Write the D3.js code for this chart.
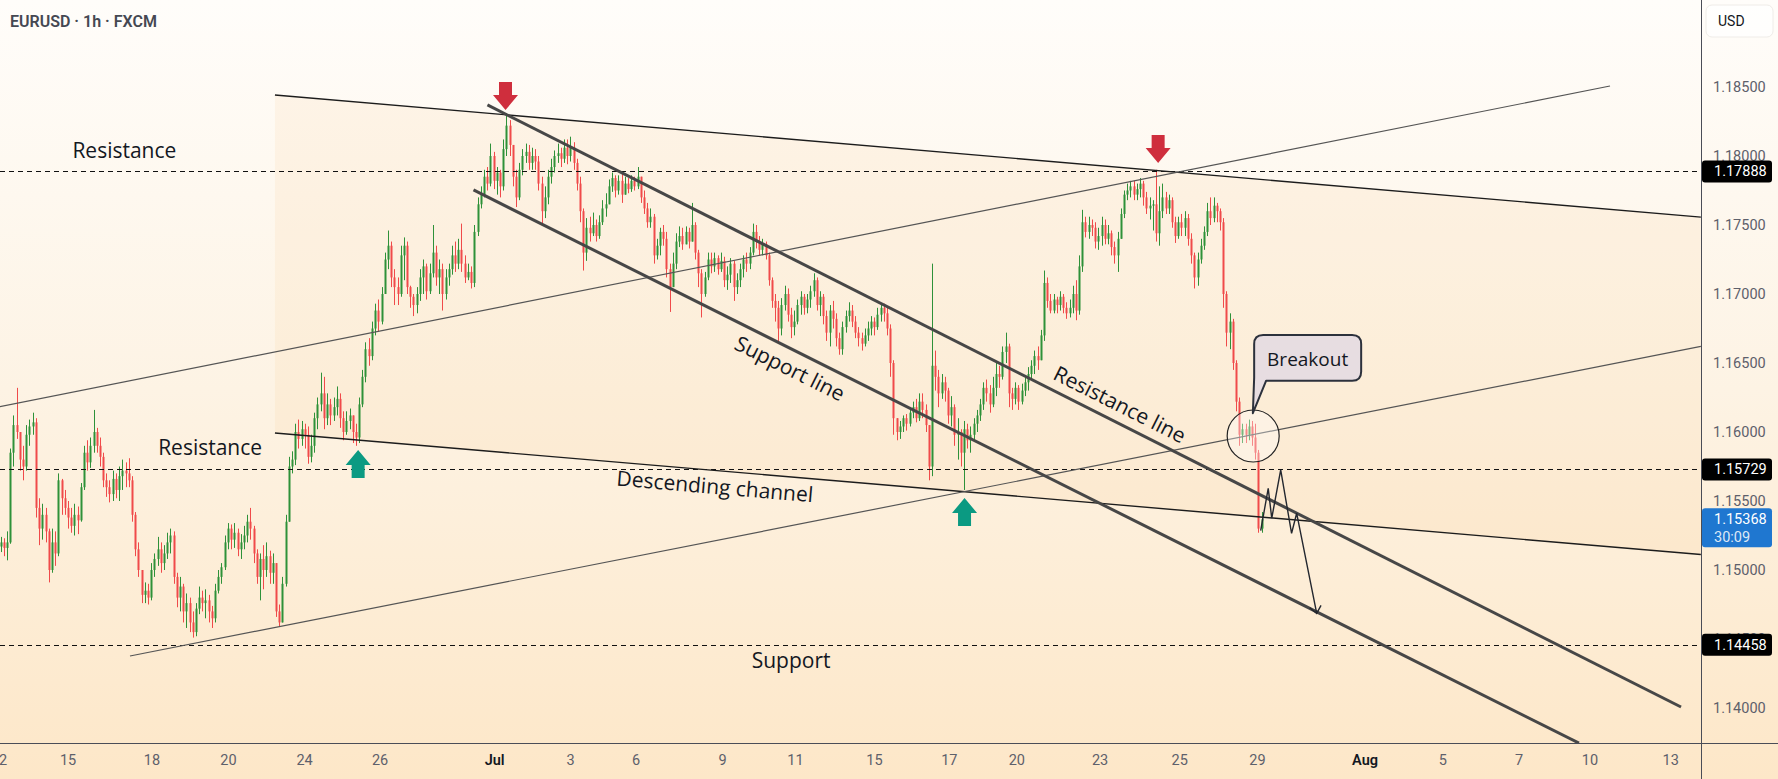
<!DOCTYPE html>
<html>
<head>
<meta charset="utf-8">
<script src="https://cdn.jsdelivr.net/npm/d3@7"></script>
<style>
html, body { margin: 0; padding: 0; background: #fff; }
svg { display: block; }
</style>
</head>
<body>
<svg id="chart" width="1778" height="779"></svg>
<script>
// ---- data (EURUSD 1h, bars, ~2h per bar) ----
var firstOpen = 1.1517;
var closes = [
1.1520,1.1516,1.1520,1.1585,1.1605,1.1600,1.1580,1.1575,1.1598,1.1604,
1.1607,1.1545,1.1530,1.1540,1.1528,1.1500,1.1520,1.1512,1.1565,1.1552,
1.1545,1.1538,1.1532,1.1540,1.1536,1.1560,1.1585,1.1578,1.1590,1.1600,
1.1590,1.1582,1.1565,1.1560,1.1555,1.1566,1.1558,1.1568,1.1572,1.1570,
1.1565,1.1540,1.1515,1.1500,1.1482,1.1485,1.1480,1.1500,1.1508,1.1515,
1.1505,1.1512,1.1520,1.1525,1.1495,1.1480,1.1488,1.1470,1.1476,1.1462,
1.1455,1.1472,1.1480,1.1476,1.1478,1.1470,1.1465,1.1485,1.1495,1.1502,
1.1520,1.1530,1.1522,1.1527,1.1515,1.1520,1.1525,1.1535,1.1530,1.1512,
1.1495,1.1508,1.1500,1.1510,1.1498,1.1505,1.1470,1.1462,1.1490,1.1535,
1.1575,1.1580,1.1600,1.1595,1.1602,1.1598,1.1582,1.1590,1.1610,1.1620,
1.1628,1.1610,1.1620,1.1612,1.1618,1.1624,1.1610,1.1600,1.1608,1.1612,
1.1600,1.1596,1.1620,1.1640,1.1660,1.1655,1.1675,1.1688,1.1680,1.1700,
1.1725,1.1735,1.1712,1.1705,1.1700,1.1728,1.1735,1.1705,1.1698,1.1692,
1.1700,1.1712,1.1720,1.1702,1.1715,1.1730,1.1712,1.1718,1.1700,1.1712,
1.1718,1.1728,1.1722,1.1732,1.1722,1.1712,1.1716,1.1708,1.1745,1.1765,
1.1772,1.1785,1.1780,1.1800,1.1782,1.1788,1.1778,1.1805,1.1822,1.1808,
1.1785,1.1770,1.1790,1.1800,1.1803,1.1795,1.1800,1.1796,1.1780,1.1760,
1.1770,1.1785,1.1792,1.1800,1.1802,1.1798,1.1806,1.1800,1.1806,1.1795,
1.1780,1.1760,1.1730,1.1748,1.1744,1.1750,1.1742,1.1752,1.1762,1.1765,
1.1778,1.1784,1.1775,1.1782,1.1772,1.1780,1.1776,1.1782,1.1778,1.1785,
1.1770,1.1762,1.1752,1.1756,1.1728,1.1735,1.1745,1.1740,1.1718,1.1705,
1.1722,1.1738,1.1742,1.1736,1.1745,1.1738,1.1750,1.1730,1.1715,1.1700,
1.1712,1.1725,1.1720,1.1726,1.1718,1.1724,1.1710,1.1714,1.1722,1.1705,
1.1710,1.1718,1.1725,1.1722,1.1730,1.1745,1.1738,1.1732,1.1736,1.1728,
1.1710,1.1695,1.1690,1.1675,1.1692,1.1700,1.1685,1.1676,1.1680,1.1692,
1.1698,1.1690,1.1696,1.1702,1.1710,1.1692,1.1698,1.1684,1.1672,1.1688,
1.1682,1.1668,1.1660,1.1676,1.1684,1.1688,1.1680,1.1672,1.1668,1.1664,
1.1670,1.1675,1.1680,1.1676,1.1685,1.1690,1.1686,1.1675,1.1650,1.1610,
1.1600,1.1604,1.1610,1.1606,1.1614,1.1618,1.1610,1.1622,1.1616,1.1605,
1.1575,1.1648,1.1640,1.1628,1.1636,1.1630,1.1612,1.1618,1.1598,1.1600,
1.1585,1.1602,1.1594,1.1598,1.1606,1.1612,1.1620,1.1632,1.1628,1.1620,
1.1632,1.1642,1.1640,1.1658,1.1662,1.1628,1.1624,1.1632,1.1622,1.1630,
1.1636,1.1642,1.1648,1.1655,1.1652,1.1670,1.1708,1.1695,1.1688,1.1696,
1.1692,1.1698,1.1690,1.1686,1.1690,1.1700,1.1688,1.1720,1.1752,1.1745,
1.1750,1.1748,1.1738,1.1742,1.1750,1.1740,1.1744,1.1734,1.1728,1.1740,
1.1758,1.1772,1.1775,1.1778,1.1772,1.1776,1.1780,1.1770,1.1762,1.1764,
1.1765,1.1744,1.1760,1.1770,1.1762,1.1768,1.1752,1.1742,1.1752,1.1748,
1.1755,1.1740,1.1728,1.1712,1.1725,1.1735,1.1745,1.1760,1.1755,1.1764,
1.1760,1.1752,1.1700,1.1672,1.1680,1.1650,1.1622,1.1598,1.1602,1.1598,
1.1604,1.1596,1.1585,1.1530,1.15368
];
var highs = [
1.1524,1.1523,1.1528,1.1588,1.1612,1.1632,1.1600,1.1590,1.1605,1.1609,
1.1614,1.1610,1.1552,1.1548,1.1545,1.1530,1.1530,1.1528,1.1570,1.1566,
1.1558,1.1550,1.1545,1.1548,1.1546,1.1563,1.1590,1.1594,1.1596,1.1616,
1.1603,1.1596,1.1585,1.1570,1.1565,1.1572,1.1570,1.1575,1.1580,1.1578,
1.1581,1.1568,1.1542,1.1520,1.1500,1.1491,1.1490,1.1505,1.1512,1.1524,
1.1520,1.1518,1.1527,1.1530,1.1528,1.1498,1.1495,1.1490,1.1483,1.1480,
1.1470,1.1476,1.1488,1.1485,1.1486,1.1482,1.1474,1.1490,1.1500,1.1505,
1.1525,1.1534,1.1533,1.1534,1.1530,1.1526,1.1532,1.1540,1.1545,1.1532,
1.1515,1.1512,1.1518,1.1520,1.1514,1.1512,1.1500,1.1475,1.1495,1.1540,
1.1582,1.1586,1.1606,1.1609,1.1608,1.1606,1.1604,1.1598,1.1614,1.1625,
1.1643,1.1640,1.1628,1.1624,1.1625,1.1633,1.1628,1.1615,1.1615,1.1617,
1.1610,1.1606,1.1625,1.1645,1.1665,1.1668,1.1680,1.1693,1.1696,1.1705,
1.1730,1.1746,1.1738,1.1718,1.1712,1.1735,1.1741,1.1738,1.1706,1.1700,
1.1705,1.1718,1.1725,1.1722,1.1722,1.1750,1.1735,1.1725,1.1722,1.1718,
1.1722,1.1735,1.1738,1.1740,1.1751,1.1728,1.1722,1.1720,1.1750,1.1770,
1.1778,1.1790,1.1792,1.1809,1.1803,1.1792,1.1790,1.1812,1.1831,1.1826,
1.1805,1.1790,1.1795,1.1805,1.1809,1.1808,1.1806,1.1805,1.1800,1.1785,
1.1778,1.1790,1.1798,1.1804,1.1809,1.1806,1.1812,1.1812,1.1814,1.1810,
1.1798,1.1785,1.1762,1.1755,1.1756,1.1759,1.1754,1.1757,1.1768,1.1773,
1.1783,1.1788,1.1786,1.1786,1.1788,1.1785,1.1784,1.1786,1.1785,1.1792,
1.1785,1.1775,1.1766,1.1762,1.1758,1.1740,1.1748,1.1750,1.1745,1.1722,
1.1730,1.1744,1.1749,1.1748,1.1749,1.1748,1.1766,1.1752,1.1732,1.1718,
1.1716,1.1730,1.1730,1.1730,1.1728,1.1730,1.1727,1.1720,1.1726,1.1724,
1.1715,1.1722,1.1728,1.1730,1.1734,1.1751,1.1750,1.1742,1.1740,1.1738,
1.1730,1.1712,1.1700,1.1695,1.1697,1.1706,1.1704,1.1690,1.1688,1.1696,
1.1702,1.1700,1.1700,1.1706,1.1715,1.1712,1.1702,1.1700,1.1688,1.1692,
1.1695,1.1686,1.1672,1.1680,1.1688,1.1694,1.1692,1.1684,1.1676,1.1672,
1.1675,1.1680,1.1684,1.1683,1.1690,1.1693,1.1693,1.1690,1.1678,1.1652,
1.1606,1.1608,1.1612,1.1613,1.1617,1.1622,1.1624,1.1628,1.1628,1.1620,
1.1605,1.1722,1.1659,1.1645,1.1642,1.1640,1.1632,1.1626,1.1620,1.1610,
1.1602,1.1608,1.1606,1.1604,1.1610,1.1616,1.1624,1.1636,1.1638,1.1634,
1.1640,1.1650,1.1648,1.1662,1.1672,1.1664,1.1632,1.1636,1.1634,1.1635,
1.1640,1.1647,1.1652,1.1659,1.1662,1.1674,1.1717,1.1712,1.1700,1.1700,
1.1698,1.1702,1.1700,1.1694,1.1696,1.1706,1.1710,1.1728,1.1761,1.1756,
1.1756,1.1754,1.1752,1.1748,1.1756,1.1754,1.1750,1.1746,1.1738,1.1745,
1.1762,1.1775,1.1780,1.1782,1.1782,1.1780,1.1784,1.1782,1.1774,1.1770,
1.1768,1.1790,1.1778,1.1780,1.1774,1.1772,1.1770,1.1756,1.1756,1.1758,
1.1760,1.1758,1.1744,1.1730,1.1730,1.1740,1.1749,1.1766,1.1770,1.1770,
1.1766,1.1762,1.1755,1.1702,1.1686,1.1682,1.1652,1.1625,1.1606,1.1606,
1.1609,1.1608,1.1606,1.1587,1.1542
];
var lows = [
1.1513,1.1510,1.1507,1.1519,1.1575,1.1595,1.1572,1.1565,1.1572,1.1590,
1.1598,1.1538,1.1518,1.1522,1.1520,1.1491,1.1498,1.1503,1.1510,1.1540,
1.1540,1.1530,1.1527,1.1525,1.1526,1.1535,1.1558,1.1572,1.1574,1.1585,
1.1585,1.1575,1.1560,1.1553,1.1549,1.1550,1.1552,1.1550,1.1558,1.1560,
1.1560,1.1535,1.1510,1.1495,1.1476,1.1476,1.1475,1.1478,1.1495,1.1503,
1.1498,1.1500,1.1508,1.1512,1.1490,1.1473,1.1470,1.1462,1.1458,1.1455,
1.1451,1.1452,1.1468,1.1470,1.1465,1.1462,1.1458,1.1462,1.1483,1.1490,
1.1500,1.1515,1.1515,1.1516,1.1510,1.1508,1.1515,1.1520,1.1522,1.1505,
1.1490,1.1478,1.1486,1.1495,1.1490,1.1490,1.1466,1.1459,1.1462,1.1488,
1.1535,1.1570,1.1576,1.1588,1.1590,1.1588,1.1577,1.1578,1.1585,1.1602,
1.1615,1.1602,1.1605,1.1605,1.1608,1.1612,1.1603,1.1594,1.1598,1.1602,
1.1592,1.1590,1.1592,1.1618,1.1636,1.1648,1.1652,1.1670,1.1673,1.1678,
1.1700,1.1718,1.1705,1.1692,1.1692,1.1698,1.1710,1.1700,1.1690,1.1684,
1.1686,1.1695,1.1700,1.1696,1.1700,1.1712,1.1706,1.1700,1.1688,1.1696,
1.1706,1.1714,1.1716,1.1718,1.1716,1.1708,1.1710,1.1704,1.1705,1.1742,
1.1762,1.1770,1.1775,1.1778,1.1776,1.1772,1.1770,1.1775,1.1800,1.1800,
1.1778,1.1763,1.1768,1.1786,1.1795,1.1790,1.1790,1.1790,1.1775,1.1750,
1.1755,1.1765,1.1780,1.1788,1.1795,1.1792,1.1795,1.1794,1.1796,1.1790,
1.1775,1.1752,1.1717,1.1724,1.1738,1.1742,1.1738,1.1740,1.1750,1.1756,
1.1765,1.1774,1.1770,1.1772,1.1766,1.1772,1.1773,1.1774,1.1775,1.1776,
1.1766,1.1758,1.1748,1.1748,1.1722,1.1725,1.1728,1.1735,1.1712,1.1687,
1.1708,1.1718,1.1734,1.1732,1.1736,1.1733,1.1738,1.1725,1.1705,1.1683,
1.1698,1.1710,1.1715,1.1716,1.1714,1.1716,1.1705,1.1703,1.1708,1.1695,
1.1700,1.1705,1.1712,1.1716,1.1718,1.1728,1.1733,1.1728,1.1728,1.1725,
1.1706,1.1690,1.1680,1.1664,1.1670,1.1688,1.1680,1.1668,1.1670,1.1678,
1.1685,1.1685,1.1686,1.1690,1.1698,1.1688,1.1684,1.1678,1.1666,1.1662,
1.1675,1.1662,1.1656,1.1656,1.1672,1.1680,1.1676,1.1668,1.1662,1.1659,
1.1662,1.1666,1.1670,1.1670,1.1674,1.1680,1.1680,1.1670,1.1640,1.1598,
1.1594,1.1595,1.1600,1.1601,1.1604,1.1610,1.1607,1.1608,1.1610,1.1600,
1.1565,1.1568,1.1630,1.1618,1.1624,1.1622,1.1606,1.1604,1.1590,1.1580,
1.1575,1.1558,1.1588,1.1585,1.1594,1.1600,1.1608,1.1616,1.1622,1.1614,
1.1618,1.1626,1.1632,1.1638,1.1650,1.1618,1.1616,1.1620,1.1616,1.1620,
1.1626,1.1630,1.1638,1.1642,1.1645,1.1652,1.1666,1.1690,1.1686,1.1686,
1.1686,1.1688,1.1686,1.1682,1.1683,1.1686,1.1681,1.1685,1.1716,1.1741,
1.1740,1.1742,1.1733,1.1732,1.1735,1.1736,1.1736,1.1728,1.1722,1.1716,
1.1740,1.1755,1.1768,1.1770,1.1768,1.1768,1.1770,1.1764,1.1758,1.1754,
1.1746,1.1738,1.1735,1.1755,1.1758,1.1758,1.1748,1.1737,1.1740,1.1742,
1.1742,1.1735,1.1722,1.1704,1.1706,1.1722,1.1732,1.1742,1.1750,1.1752,
1.1752,1.1746,1.1690,1.1662,1.1660,1.1645,1.1615,1.1590,1.1592,1.1592,
1.1594,1.1590,1.1580,1.1527,1.1527
];

var priceTicks = [1.185, 1.18, 1.175, 1.17, 1.165, 1.16, 1.155, 1.15, 1.145, 1.14];
// date labels, placed by bar index
var dateTicks = [
  {i: -0.7, label: "12"}, {i: 20.9, label: "15"}, {i: 47.1, label: "18"},
  {i: 71.0, label: "20"}, {i: 94.8, label: "24"}, {i: 118.4, label: "26"},
  {i: 154.2, label: "Jul", month: true}, {i: 177.9, label: "3"}, {i: 198.4, label: "6"},
  {i: 225.4, label: "9"}, {i: 248.2, label: "11"}, {i: 272.9, label: "15"},
  {i: 296.3, label: "17"}, {i: 317.4, label: "20"}, {i: 343.4, label: "23"},
  {i: 368.3, label: "25"}, {i: 392.6, label: "29"}, {i: 426.2, label: "Aug", month: true},
  {i: 450.5, label: "5"}, {i: 474.3, label: "7"}, {i: 496.5, label: "10"},
  {i: 521.7, label: "13"}
];

var levels = [1.17888, 1.15729, 1.14458];
var lastPrice = 1.15368, countdown = "30:09";

// drawn lines: [bar index, price]
var channelTop = [[85.7, 1.18442], [531.3, 1.17557]];
var channelBottom = [[85.7, 1.15993], [531.3, 1.15112]];
var riseUpper = [[-5, 1.16162], [502.9, 1.18507]];
var riseLower = [[40.4, 1.14377], [531.3, 1.16620]];
var resistanceLine = [[152.1, 1.18370], [525.1, 1.14007]];
var supportLine = [[147.75, 1.17754], [493.2, 1.13746]];
var projection = [[393.75, 1.15285], [396.1, 1.15592], [397.2, 1.15375], [400.0, 1.15725],
                  [403.4, 1.15266], [405.0, 1.15411], [411.25, 1.14686]];

var arrows = [
  {i: 157.75, p: 1.18333, dir: "down"},
  {i: 361.7, p: 1.17949, dir: "down"},
  {i: 111.7, p: 1.15870, dir: "up"},
  {i: 301.2, p: 1.15522, dir: "up"}
];

var labels = [
  {text: "Resistance", i: 22.4, p: 1.17986, anchor: "start"},
  {text: "Resistance", i: 49.2, p: 1.15833, anchor: "start"},
  {text: "Support", i: 247.0, p: 1.14290, anchor: "middle"}
];
var lineLabels = [
  {text: "Descending channel", i: 223.2, p: 1.15609, along: channelBottom},
  {text: "Support line", i: 246.7, p: 1.16464, along: supportLine},
  {text: "Resistance line", i: 349.8, p: 1.16203, along: resistanceLine}
];
var breakout = {text: "Breakout", i: 391.3, p: 1.16136, ci: 391.4, cp: 1.15971};

// ---- layout ----
var W = 1778, H = 779, plotR = 1701, plotB = 743;
var upColor = "#2e9139", downColor = "#f04a4a";

var svg = d3.select("#chart");
var x = d3.scaleLinear().domain([0, 394]).range([0.7, 1261.5]);
var y = d3.scaleLinear().domain([1.14, 1.185]).range([708, 87]);

var defs = svg.append("defs");
var grad = defs.append("linearGradient").attr("id", "bg")
  .attr("x1", 0).attr("y1", 0).attr("x2", 0).attr("y2", 1);
grad.append("stop").attr("offset", "0%").attr("stop-color", "#fffdfa");
grad.append("stop").attr("offset", "50%").attr("stop-color", "#fdf3e4");
grad.append("stop").attr("offset", "100%").attr("stop-color", "#fde7c8");
defs.append("clipPath").attr("id", "plot")
  .append("rect").attr("width", plotR).attr("height", plotB);

svg.append("rect").attr("width", W).attr("height", H).attr("fill", "url(#bg)");

var g = svg.append("g").attr("clip-path", "url(#plot)");
var line = d3.line().x(function(d) { return x(d[0]); }).y(function(d) { return y(d[1]); });

// channel fill
g.append("path")
  .attr("d", line(channelTop.concat(channelBottom.slice().reverse())) + "Z")
  .attr("fill", "rgba(246, 186, 110, 0.10)");

// candles
var bars = closes.map(function(c, i) {
  var o = i ? closes[i - 1] : firstOpen;
  return {i: i, o: o, c: c, h: Math.max(highs[i], o, c), l: Math.min(lows[i], o, c)};
});
var cg = g.append("g");
cg.selectAll("line").data(bars).join("line")
  .attr("x1", function(d) { return Math.round(x(d.i)) + 0.5; })
  .attr("x2", function(d) { return Math.round(x(d.i)) + 0.5; })
  .attr("y1", function(d) { return y(d.h); })
  .attr("y2", function(d) { return y(d.l); })
  .attr("stroke", function(d) { return d.c >= d.o ? upColor : downColor; })
  .attr("stroke-width", 1);
cg.selectAll("rect").data(bars).join("rect")
  .attr("x", function(d) { return Math.round(x(d.i)) - 0.5; })
  .attr("width", 2)
  .attr("y", function(d) { return y(Math.max(d.o, d.c)); })
  .attr("height", function(d) { return Math.max(1, Math.abs(y(d.o) - y(d.c))); })
  .attr("fill", function(d) { return d.c >= d.o ? upColor : downColor; });

// horizontal levels
g.selectAll("line.level").data(levels).join("line").attr("class", "level")
  .attr("x1", 0).attr("x2", plotR)
  .attr("y1", function(d) { return Math.round(y(d)) + 0.5; })
  .attr("y2", function(d) { return Math.round(y(d)) + 0.5; })
  .attr("stroke", "#111").attr("stroke-width", 1.2).attr("stroke-dasharray", "5,4");

// trend lines
function drawLine(pts, color, w) {
  g.append("path").attr("d", line(pts)).attr("fill", "none")
    .attr("stroke", color).attr("stroke-width", w);
}
drawLine(channelTop, "#1c1c1c", 1.4);
drawLine(channelBottom, "#1c1c1c", 1.4);
drawLine(riseUpper, "#555", 1.2);
drawLine(riseLower, "#555", 1.2);
drawLine(resistanceLine, "#474747", 3);
drawLine(supportLine, "#474747", 3);

// projection zigzag with open arrow head
g.append("path").attr("d", line(projection)).attr("fill", "none")
  .attr("stroke", "#23272f").attr("stroke-width", 1.4).attr("stroke-linejoin", "miter");
(function() {
  var a = projection[projection.length - 2], b = projection[projection.length - 1];
  var bx = x(b[0]), by = y(b[1]);
  var ang = Math.atan2(y(a[1]) - by, x(a[0]) - bx);
  var len = 9, spread = 0.7;
  var p1 = [bx + len * Math.cos(ang + spread), by + len * Math.sin(ang + spread)];
  var p2 = [bx + len * Math.cos(ang - spread), by + len * Math.sin(ang - spread)];
  g.append("path").attr("d", "M" + p1 + "L" + [bx, by] + "L" + p2)
    .attr("fill", "none").attr("stroke", "#23272f").attr("stroke-width", 1.4);
})();

// breakout circle
g.append("circle").attr("cx", x(breakout.ci)).attr("cy", y(breakout.cp)).attr("r", 26)
  .attr("fill", "rgba(255,255,255,0.35)").attr("stroke", "#222").attr("stroke-width", 1.2);

// arrows
function arrowPath(tx, ty, dir) {
  var s = dir === "down" ? -1 : 1;
  var pts = [[tx, ty], [tx + 12.5, ty + s * 15], [tx + 6.5, ty + s * 15], [tx + 6.5, ty + s * 28],
             [tx - 6.5, ty + s * 28], [tx - 6.5, ty + s * 15], [tx - 12.5, ty + s * 15]];
  return "M" + pts.join("L") + "Z";
}
g.selectAll("path.arrow").data(arrows).join("path").attr("class", "arrow")
  .attr("d", function(d) { return arrowPath(x(d.i), y(d.p), d.dir); })
  .attr("fill", function(d) { return d.dir === "down" ? "#cf2e3d" : "#0b9a82"; });

// text labels
var annFont = "'Open Sans', 'Noto Sans', sans-serif";
g.selectAll("text.lab").data(labels).join("text").attr("class", "lab")
  .attr("x", function(d) { return x(d.i); })
  .attr("y", function(d) { return y(d.p); })
  .attr("text-anchor", function(d) { return d.anchor; })
  .attr("font-family", annFont).attr("font-size", 21).attr("fill", "#131722")
  .text(function(d) { return d.text; });

g.selectAll("text.along").data(lineLabels).join("text").attr("class", "along")
  .attr("transform", function(d) {
    var a = d.along[0], b = d.along[1];
    var ang = Math.atan2(y(b[1]) - y(a[1]), x(b[0]) - x(a[0])) * 180 / Math.PI;
    return "translate(" + x(d.i) + "," + y(d.p) + ") rotate(" + ang + ")";
  })
  .attr("text-anchor", "middle").attr("dominant-baseline", "central")
  .attr("font-family", annFont).attr("font-size", 21).attr("fill", "#131722")
  .text(function(d) { return d.text; });

// breakout callout
(function() {
  var tx = x(breakout.i), ty = y(breakout.p);
  var bx = tx + 1.3, by = ty - 78.3, bw = 107, bh = 45.7, r = 9;
  var d = "M" + (bx + r) + "," + by + "H" + (bx + bw - r) +
    "Q" + (bx + bw) + "," + by + " " + (bx + bw) + "," + (by + r) +
    "V" + (by + bh - r) + "Q" + (bx + bw) + "," + (by + bh) + " " + (bx + bw - r) + "," + (by + bh) +
    "H" + (bx + 12) + "L" + tx + "," + ty + "L" + bx + "," + (by + bh - 3) +
    "V" + (by + r) + "Q" + bx + "," + by + " " + (bx + r) + "," + by + "Z";
  g.append("path").attr("d", d).attr("fill", "#e7dde1")
    .attr("stroke", "#2c313c").attr("stroke-width", 2).attr("stroke-linejoin", "round");
  g.append("text").attr("x", bx + bw / 2).attr("y", by + bh / 2 + 1)
    .attr("text-anchor", "middle").attr("dominant-baseline", "central")
    .attr("font-family", annFont).attr("font-size", 19).attr("fill", "#131722")
    .text(breakout.text);
})();

// title
svg.append("text").attr("x", 10).attr("y", 27)
  .attr("font-family", "Roboto, sans-serif").attr("font-size", 16).attr("font-weight", 600)
  .attr("fill", "#454852").text("EURUSD \u00b7 1h \u00b7 FXCM");

// frame lines
svg.append("line").attr("x1", plotR + 0.5).attr("x2", plotR + 0.5).attr("y1", 0).attr("y2", H)
  .attr("stroke", "#4a4d57").attr("stroke-width", 1);
svg.append("line").attr("x1", 0).attr("x2", W).attr("y1", plotB + 0.5).attr("y2", plotB + 0.5)
  .attr("stroke", "#4a4d57").attr("stroke-width", 1);

// price axis
var axisFont = "Roboto, 'Liberation Sans', sans-serif";
var yAxis = svg.append("g").attr("transform", "translate(" + plotR + ",0)")
  .call(d3.axisRight(y).tickValues(priceTicks).tickFormat(d3.format(".5f")).tickSize(0).tickPadding(12));
yAxis.select(".domain").remove();
yAxis.selectAll("text").attr("font-family", axisFont).attr("font-size", 14.5).attr("fill", "#5d606b");

// USD box
svg.append("rect").attr("x", 1706).attr("y", 5).attr("width", 67).attr("height", 32).attr("rx", 6)
  .attr("fill", "rgba(255,255,255,0.7)").attr("stroke", "#efece8");
svg.append("text").attr("x", 1718).attr("y", 21).attr("dominant-baseline", "central")
  .attr("font-family", axisFont).attr("font-size", 14).attr("fill", "#131722").text("USD");

// level labels
var lv = svg.append("g");
lv.selectAll("rect").data(levels).join("rect")
  .attr("x", plotR + 1).attr("width", 70).attr("height", 22).attr("rx", 3)
  .attr("y", function(d) { return y(d) - 11; }).attr("fill", "#000");
lv.selectAll("text").data(levels).join("text")
  .attr("x", plotR + 13).attr("y", function(d) { return y(d) + 0.5; })
  .attr("dominant-baseline", "central")
  .attr("font-family", axisFont).attr("font-size", 14.5).attr("fill", "#fff")
  .text(function(d) { return d3.format(".5f")(d); });

// last price label
svg.append("rect").attr("x", plotR + 1).attr("y", y(lastPrice) - 11).attr("width", 70).attr("height", 39)
  .attr("rx", 3).attr("fill", "#1f77d0");
svg.append("text").attr("x", plotR + 13).attr("y", y(lastPrice) + 0.5).attr("dominant-baseline", "central")
  .attr("font-family", axisFont).attr("font-size", 14.5).attr("fill", "#fff").text(d3.format(".5f")(lastPrice));
svg.append("text").attr("x", plotR + 13).attr("y", y(lastPrice) + 18.5).attr("dominant-baseline", "central")
  .attr("font-family", axisFont).attr("font-size", 14.5).attr("fill", "rgba(255,255,255,0.85)").text(countdown);

// time axis
var xAxis = svg.append("g").attr("transform", "translate(0," + plotB + ")")
  .call(d3.axisBottom(x).tickValues(dateTicks.map(function(d) { return d.i; }))
    .tickFormat(function(d, k) { return dateTicks[k].label; }).tickSize(0).tickPadding(12));
xAxis.select(".domain").remove();
xAxis.selectAll("text")
  .attr("font-family", axisFont).attr("font-size", 14.5)
  .attr("font-weight", function(d, k) { return dateTicks[k].month ? 600 : 400; })
  .attr("fill", function(d, k) { return dateTicks[k].month ? "#131722" : "#5d606b"; });
</script>
</body>
</html>
